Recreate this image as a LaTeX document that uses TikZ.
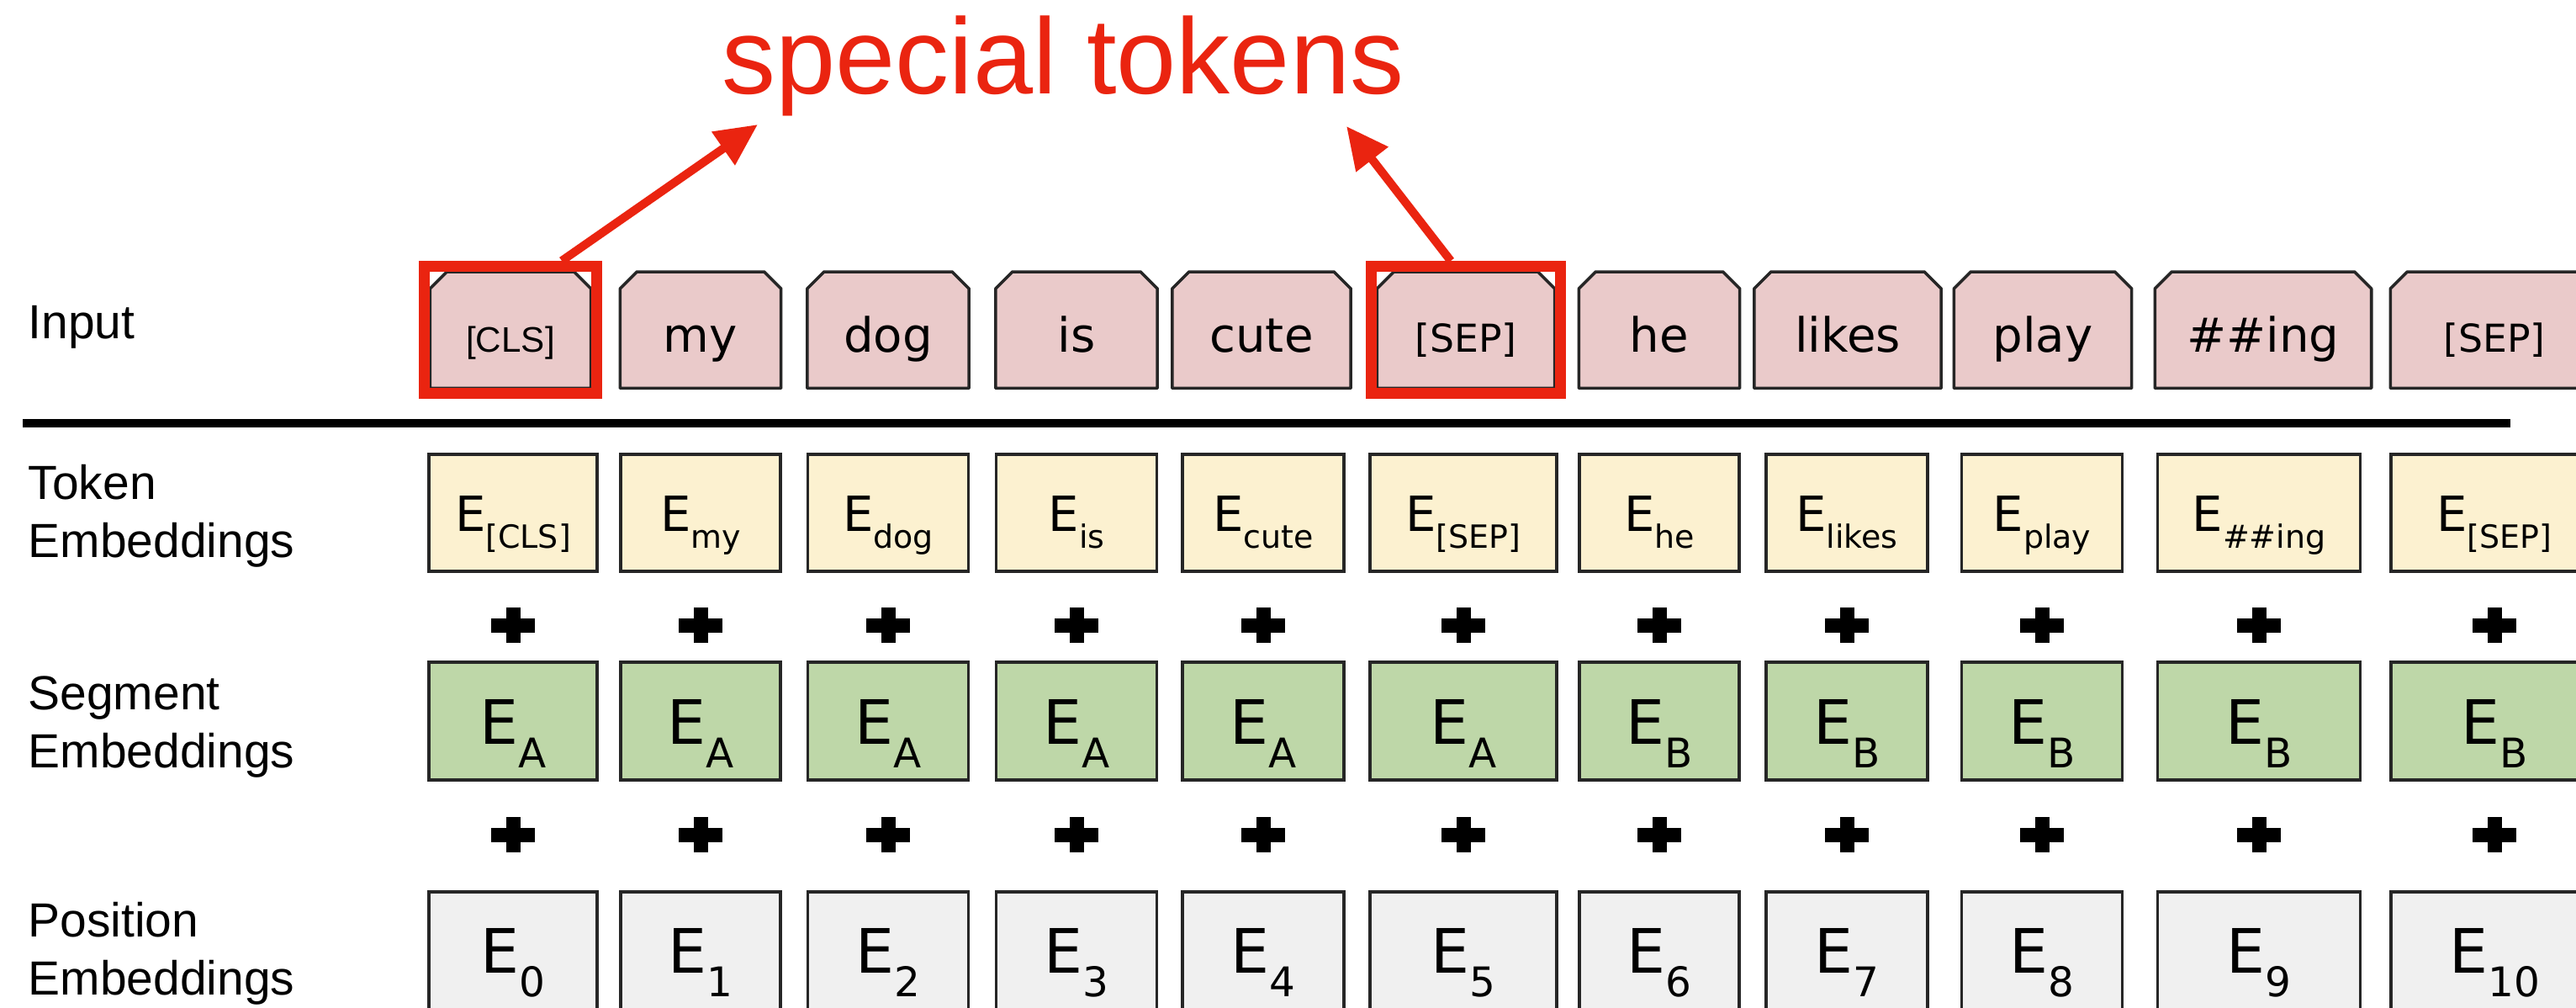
\documentclass[tikz,border=0pt]{standalone}
\usepackage{fontspec}
\setmainfont{Liberation Sans}
\newfontfamily\tokfont{DejaVu Sans}
\usetikzlibrary{arrows.meta,backgrounds,fit}

\definecolor{inpink}{RGB}{234,202,202}
\definecolor{tokyellow}{RGB}{252,241,208}
\definecolor{seggreen}{RGB}{190,215,168}
\definecolor{posgray}{RGB}{240,240,240}
\definecolor{hired}{RGB}{234,36,16}
\definecolor{edge}{RGB}{38,38,38}

% E with a lowered index
\newcommand{\smallE}[1]{E\raisebox{-5.7pt}{\fontsize{10.8}{10.8}\selectfont #1}}
\newcommand{\bigE}[1]{E\raisebox{-7.8pt}{\fontsize{13.8}{13.8}\selectfont #1}}

\begin{document}
\begin{tikzpicture}[
    cell/.style={inner sep=0pt, draw=edge, line width=1pt, anchor=north},
    inbox/.style={inner sep=0pt, anchor=north, text height=0.95cm, text depth=0.42cm, font=\tokfont\fontsize{16}{16}\selectfont},
    inshape/.style={fill=inpink, draw=edge, line width=1pt, line join=round},
    tokbox/.style={cell, fill=tokyellow, text height=0.92cm, text depth=0.47cm, font=\tokfont\fontsize{16.4}{16.4}\selectfont},
    segbox/.style={cell, fill=seggreen, text height=0.98cm, text depth=0.42cm, font=\tokfont\fontsize{20.7}{20.7}\selectfont},
    posbox/.style={cell, fill=posgray, text height=0.97cm, text depth=0.43cm, font=\tokfont\fontsize{20.7}{20.7}\selectfont},
    rowlabel/.style={anchor=base west, inner sep=0pt, align=left, font=\fontsize{16.2}{19.6}\selectfont},
    hilite/.style={draw=hired, line width=0.13cm, inner sep=0.065cm},
    callout/.style={draw=hired, line width=0.1cm, -{Triangle[length=0.5cm,width=0.46cm]}}
  ]
  \useasboundingbox (0,0) rectangle (30.63,-11.97);

  % row labels (base = last line)
  \node[rowlabel] (lblIn) at (0.33,-4.02) {Input};
  \node[rowlabel] (lblTok) at (0.33,-6.62) {Token\\Embeddings};
  \node[rowlabel] (lblSeg) at (0.33,-9.12) {Segment\\Embeddings};
  \node[rowlabel] (lblPos) at (0.33,-11.82) {Position\\Embeddings};

  % input tokens, chamfered on top
  \foreach \i/\x/\w/\word in {1/6.07/1.90/{\rmfamily\fontsize{12}{12}\selectfont[CLS]},
      2/8.33/1.90/my, 3/10.56/1.91/dog, 4/12.80/1.91/is, 5/15.00/2.11/cute,
      6/17.43/2.10/{\fontsize{13}{13}\selectfont[SEP]}, 7/19.73/1.90/he,
      8/21.97/2.21/likes, 9/24.29/2.10/play, 10/26.91/2.56/{\#\#ing},
      11/29.66/2.46/{\fontsize{13}{13}\selectfont[SEP]}}{
    \node[inbox, minimum width=\w cm] (in\i) at (\x,-3.23) {\word};
    \begin{scope}[on background layer]
      \filldraw[inshape] (in\i.south west) -- ([yshift=-0.2cm]in\i.north west)
        -- ([xshift=0.2cm]in\i.north west) -- ([xshift=-0.2cm]in\i.north east)
        -- ([yshift=-0.2cm]in\i.north east) -- (in\i.south east) -- cycle;
    \end{scope}
  }

  \draw[line width=0.1cm] (0.27,-5.03) -- (29.85,-5.03);

  % embedding columns
  \foreach \i/\x/\w/\tsub/\sseg in {1/6.10/2.00/{[CLS]}/A, 2/8.33/1.90/my/A,
      3/10.56/1.91/dog/A, 4/12.80/1.91/is/A, 5/15.02/1.92/cute/A,
      6/17.40/2.22/{[SEP]}/A, 7/19.73/1.90/he/B, 8/21.96/1.92/likes/B,
      9/24.28/1.91/play/B, 10/26.86/2.41/{\#\#ing}/B, 11/29.66/2.46/{[SEP]}/B}{
    \pgfmathtruncatemacro\pos{\i-1}
    \node[tokbox, minimum width=\w cm] (tok\i) at (\x,-5.38) {\smallE{\tsub}};
    \node[segbox, minimum width=\w cm] (seg\i) at (\x,-7.85) {\bigE{\sseg}};
    \node[posbox, minimum width=\w cm] (pos\i) at (\x,-10.58) {\bigE{\pos}};
    % plus signs
    \fill (\x-0.26,-7.515) rectangle (\x+0.26,-7.345);
    \fill (\x-0.085,-7.64) rectangle (\x+0.085,-7.22);
    \fill (\x-0.26,-10.005) rectangle (\x+0.26,-9.835);
    \fill (\x-0.085,-10.13) rectangle (\x+0.085,-9.71);
  }

  % callout
  \node[hilite, fit=(in1)] (hl1) {};
  \node[hilite, fit=(in6)] (hl6) {};
  \node[anchor=base west, inner sep=0pt, text=hired, font=\fontsize{36.4}{36.4}\selectfont] (spec) at (8.58,-1.11) {special tokens};
  \coordinate (tipL) at ([shift={(0.43,-0.37)}]spec.base west);
  \coordinate (tipR) at ([shift={(7.43,-0.39)}]spec.base west);
  \draw[callout] ([xshift=0.61cm]hl1.north) -- (tipL);
  \draw[callout] ([xshift=-0.18cm]hl6.north) -- (tipR);
\end{tikzpicture}
\end{document}
